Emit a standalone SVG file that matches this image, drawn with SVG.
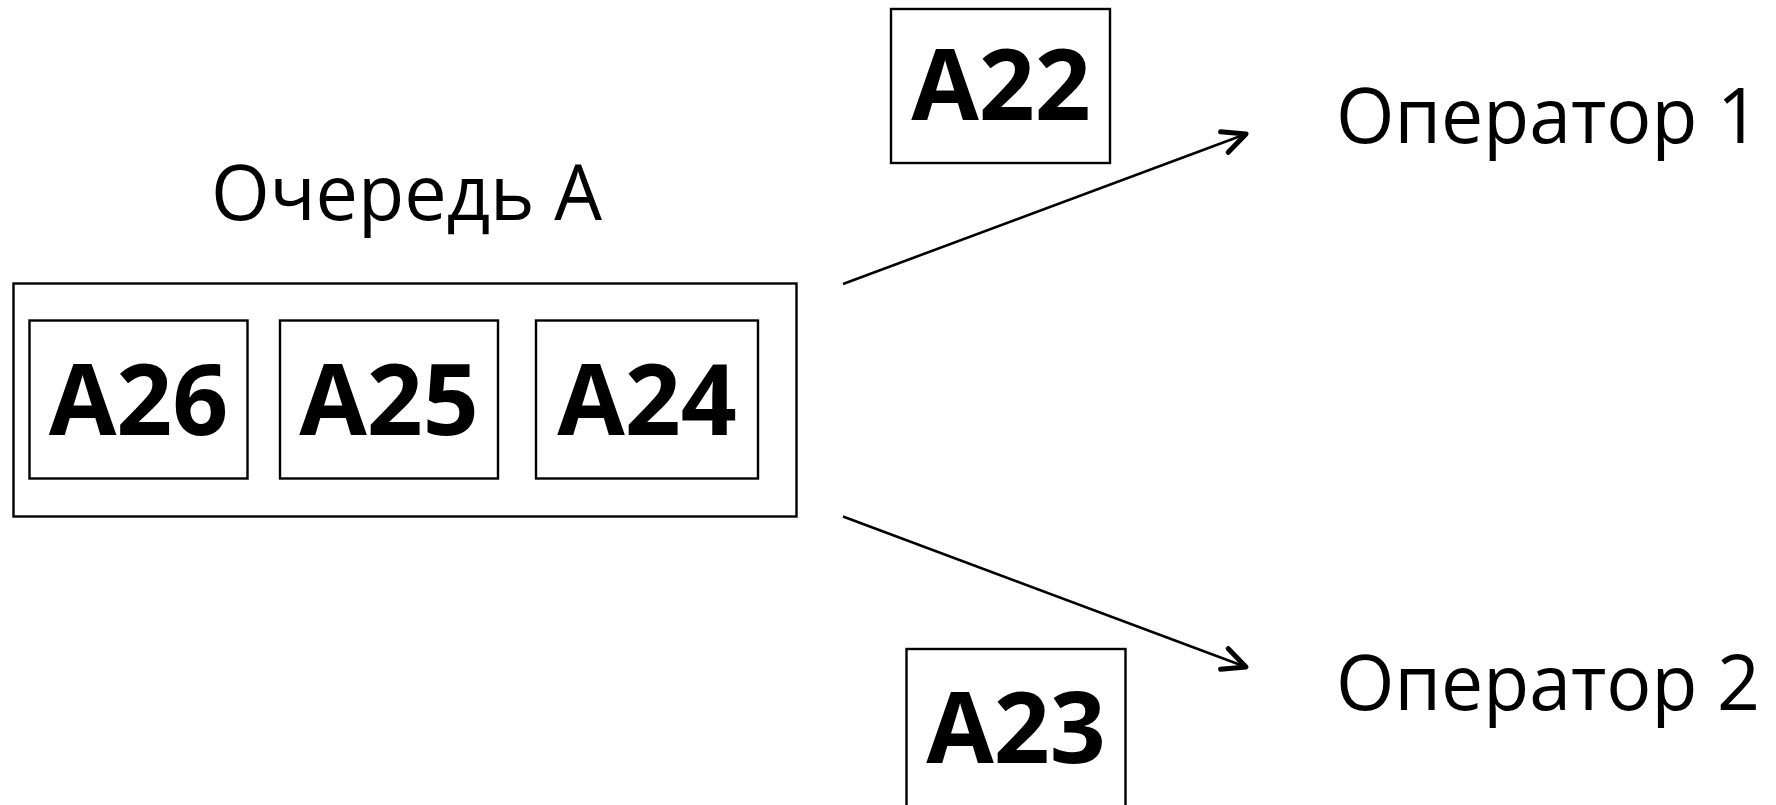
<svg xmlns="http://www.w3.org/2000/svg" width="1776" height="805" viewBox="0 0 1776 805">
  <style>
    .box { fill: #ffffff; stroke: #000000; stroke-width: 2.4; }
    .lbl { font-family: "Open Sans", "Noto Sans", sans-serif; font-weight: bold; font-size: 98px; fill: #000; text-anchor: middle; }
    .txt { font-family: "Open Sans", "Noto Sans", sans-serif; font-size: 77px; fill: #000; }
    .conn { stroke: #000; stroke-width: 2.6; fill: none; }
  </style>
  <defs>
    <marker id="arrow" markerUnits="userSpaceOnUse" markerWidth="40" markerHeight="40" viewBox="-30 -20 40 40" refX="0" refY="0" orient="auto">
      <path d="M-23,-11 L0,0 L-23,11" fill="none" stroke="#000" stroke-width="5" stroke-linecap="round" stroke-linejoin="round"/>
    </marker>
  </defs>
  <rect width="1776" height="805" fill="#ffffff"/>

  <g id="queue-title">
    <text class="txt" x="211" y="220" textLength="391" lengthAdjust="spacingAndGlyphs">Очередь А</text>
  </g>

  <g id="queue-a">
    <rect class="box" x="13.5" y="283.5" width="783" height="233"/>
  </g>
  <g id="a26">
    <rect class="box" x="29.5" y="320.5" width="218" height="158"/>
    <text class="lbl" x="138.5" y="435">A26</text>
  </g>
  <g id="a25">
    <rect class="box" x="280" y="320.5" width="218" height="158"/>
    <text class="lbl" x="389" y="435">A25</text>
  </g>
  <g id="a24">
    <rect class="box" x="536" y="320.5" width="222" height="158"/>
    <text class="lbl" x="647" y="435">A24</text>
  </g>

  <g id="a22">
    <rect class="box" x="891" y="9" width="219" height="154"/>
    <text class="lbl" x="1001" y="120">A22</text>
  </g>
  <g id="a23">
    <rect class="box" x="906.5" y="649" width="219" height="170"/>
    <text class="lbl" x="1016" y="763">A23</text>
  </g>

  <g id="operator-1">
    <text class="txt" x="1336" y="143" textLength="424" lengthAdjust="spacingAndGlyphs">Оператор 1</text>
  </g>
  <g id="operator-2">
    <text class="txt" x="1336" y="710" textLength="424" lengthAdjust="spacingAndGlyphs">Оператор 2</text>
  </g>

  <g id="connectors">
    <line class="conn" x1="843" y1="284" x2="1246" y2="134" marker-end="url(#arrow)"/>
    <line class="conn" x1="843" y1="516.5" x2="1246" y2="667" marker-end="url(#arrow)"/>
  </g>
</svg>
